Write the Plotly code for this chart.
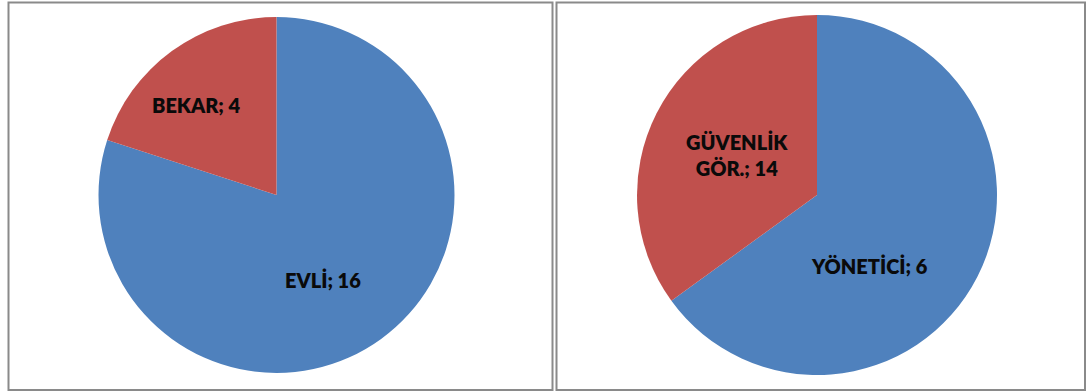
import plotly.graph_objects as go

W, H = 1087, 392

# Left chart: marital status
status_labels = ["EVLİ", "BEKAR"]
status_values = [16, 4]

# Right chart: role (printed labels and the slice sizes as drawn in the picture)
role_labels = ["YÖNETİCİ", "GÜVENLİK<br>GÖR."]
role_printed_values = [6, 14]
role_slice_values = [13, 7]

colors = ["#4F81BD", "#C0504D"]

fig = go.Figure()

def dom_x(cx, r):
    return [(cx - r) / W, (cx + r) / W]

def dom_y(cy, r):
    return [1 - (cy + r) / H, 1 - (cy - r) / H]

fig.add_trace(go.Pie(
    labels=status_labels, values=status_values, sort=False, direction="clockwise",
    rotation=0, marker=dict(colors=colors, line=dict(width=0)),
    textinfo="none", hoverinfo="label+value", showlegend=False,
    domain=dict(x=dom_x(276.5, 178), y=dom_y(195, 178)),
))
fig.add_trace(go.Pie(
    labels=role_labels, values=role_slice_values, sort=False, direction="clockwise",
    rotation=0, marker=dict(colors=colors, line=dict(width=0)),
    textinfo="none", hoverinfo="label", showlegend=False,
    domain=dict(x=dom_x(817, 180), y=dom_y(195, 180)),
))

font = dict(family="Lato, 'Open Sans', sans-serif", size=20, color="#0a0a0a", weight=800)

label_pos_left = [(323, 280), (196, 105)]
label_pos_right = [(870, 266), (737, 155)]

for (lab, val), (px, py) in zip(zip(status_labels, status_values), label_pos_left):
    fig.add_annotation(x=px / W, y=1 - py / H, xref="paper", yref="paper",
                       text=f"{lab}; {val}", showarrow=False, font=font,
                       xanchor="center", yanchor="middle")
for (lab, val), (px, py) in zip(zip(role_labels, role_printed_values), label_pos_right):
    fig.add_annotation(x=px / W, y=1 - py / H, xref="paper", yref="paper",
                       text=f"{lab}; {val}", showarrow=False,
                       font=font, xanchor="center", yanchor="middle")

# chart area borders
for (x0, x1) in [(8.5, 552.5), (556.5, 1085)]:
    fig.add_shape(type="rect", xref="paper", yref="paper",
                  x0=x0 / W, x1=x1 / W, y0=1 - 390 / H, y1=1 - 2.5 / H,
                  line=dict(color="#8a8a8a", width=2), fillcolor="rgba(0,0,0,0)")

fig.update_layout(
    width=W, height=H, margin=dict(l=0, r=0, t=0, b=0),
    paper_bgcolor="white", plot_bgcolor="white",
)

fig.write_html("out.html")
